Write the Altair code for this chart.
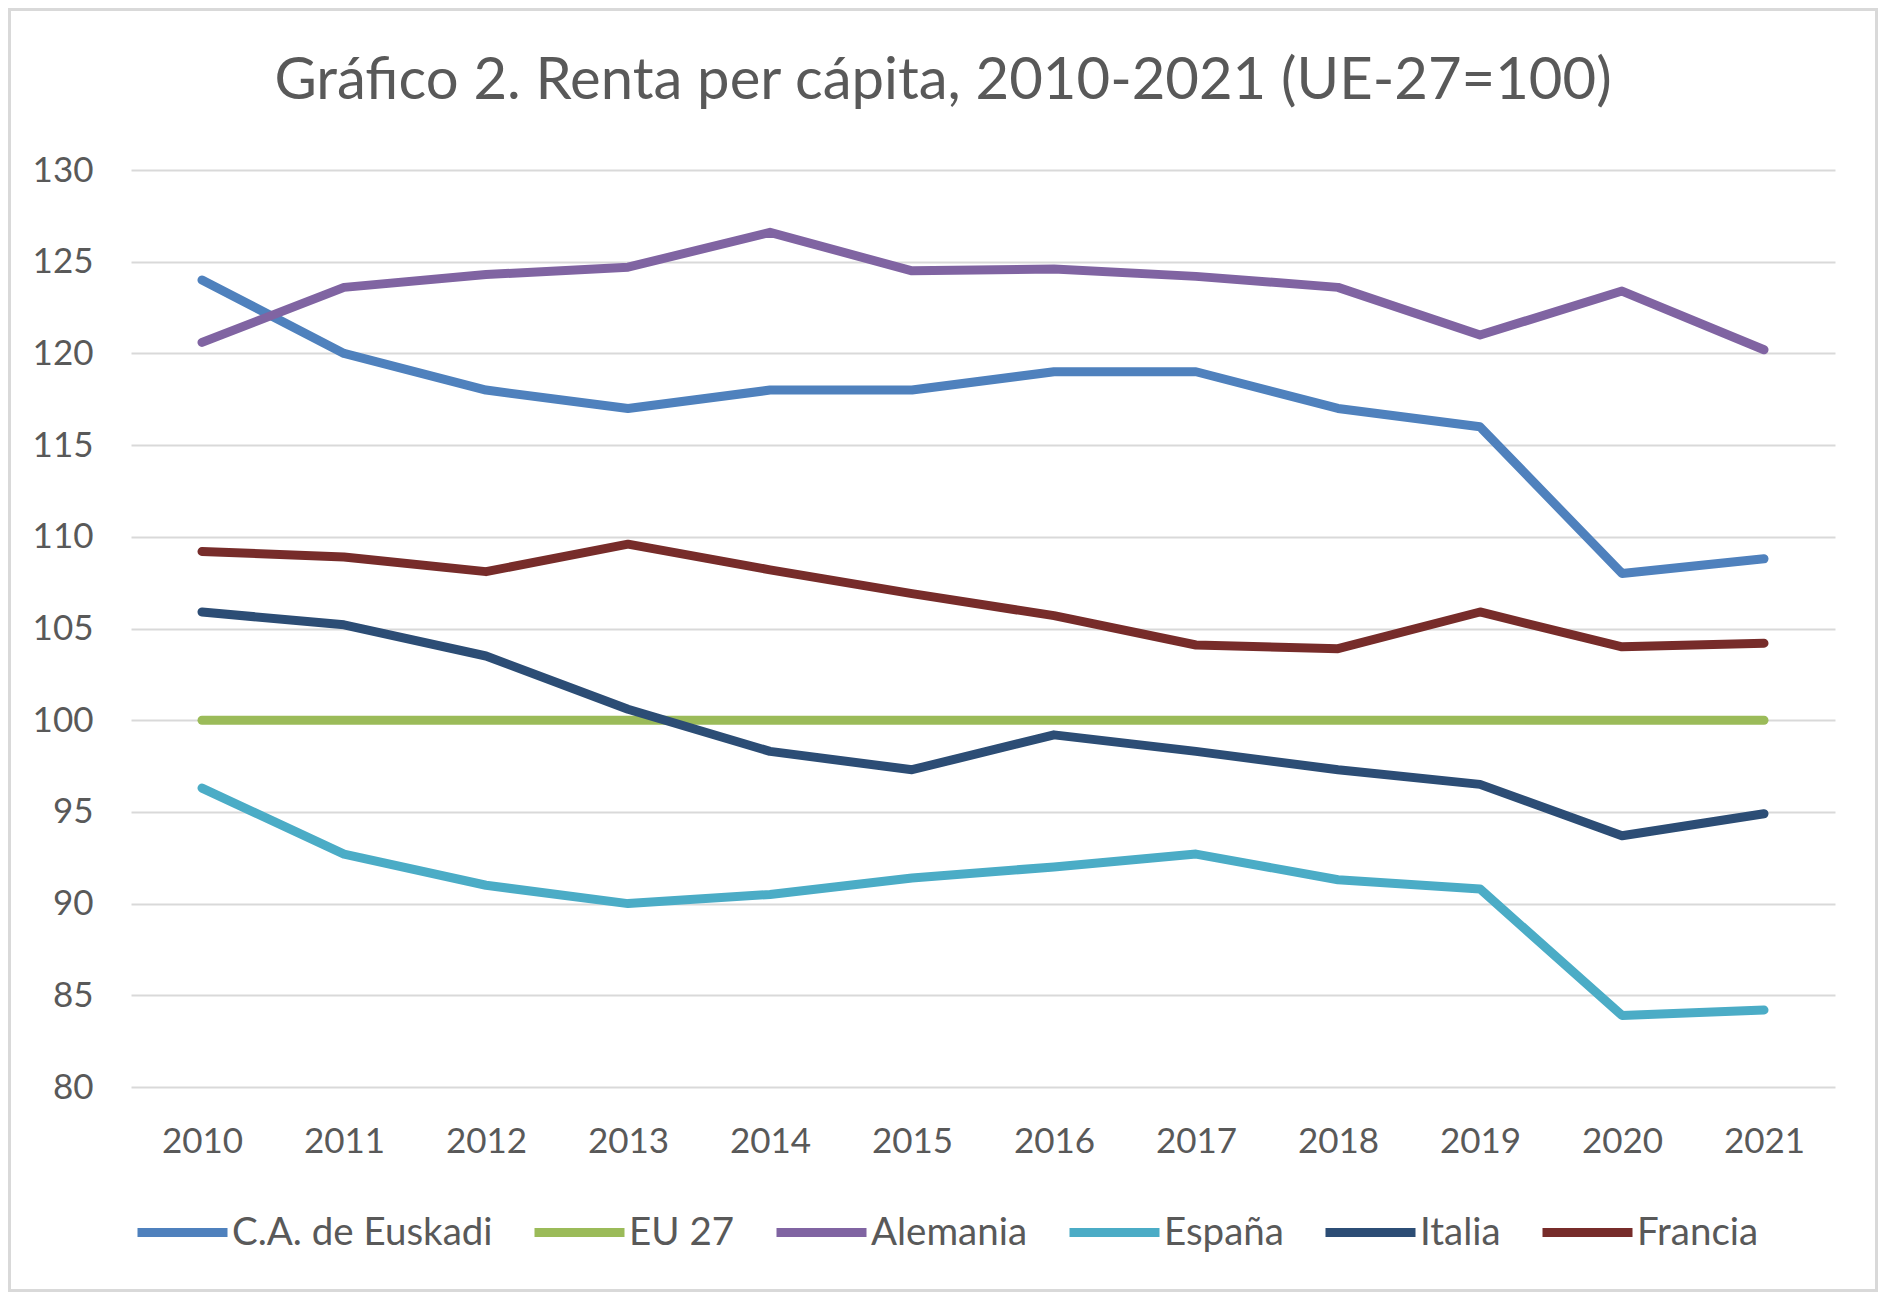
import altair as alt
import pandas as pd

years = ["2010", "2011", "2012", "2013", "2014", "2015", "2016", "2017", "2018", "2019", "2020", "2021"]
series_names = ["C.A. de Euskadi", "EU 27", "Alemania", "España", "Italia", "Francia"]
series_colors = ["#4F81BD", "#9BBB59", "#8064A2", "#4BACC6", "#2C4D75", "#772C2A"]

euskadi = [124.0, 120.0, 118.0, 117.0, 118.0, 118.0, 119.0, 119.0, 117.0, 116.0, 108.0, 108.8]
eu27 = [100, 100, 100, 100, 100, 100, 100, 100, 100, 100, 100, 100]
alemania = [120.6, 123.6, 124.3, 124.7, 126.6, 124.5, 124.6, 124.2, 123.6, 121.0, 123.4, 120.2]
espana = [96.3, 92.7, 91.0, 90.0, 90.5, 91.4, 92.0, 92.7, 91.3, 90.8, 83.9, 84.2]
italia = [105.9, 105.2, 103.5, 100.6, 98.3, 97.3, 99.2, 98.3, 97.3, 96.5, 93.7, 94.9]
francia = [109.2, 108.9, 108.1, 109.6, 108.2, 106.9, 105.7, 104.1, 103.9, 105.9, 104.0, 104.2]

y_ticks = [80, 85, 90, 95, 100, 105, 110, 115, 120, 125, 130]

values = [euskadi, eu27, alemania, espana, italia, francia]
rows = []
for order, (name, vals) in enumerate(zip(series_names, values)):
    for yr, v in zip(years, vals):
        rows.append({"Año": yr, "Serie": name, "Valor": v, "orden": order})
df = pd.DataFrame(rows)

FONT = "Lato"
GREY = "#595959"
W, H = 1704, 917
PAD = {"left": 123, "top": 162, "right": 43, "bottom": 205}

lines = alt.Chart(df).mark_line(strokeWidth=9, strokeCap="round", strokeJoin="round").encode(
    x=alt.X("Año:O", sort=years, title=None,
            axis=alt.Axis(labelAngle=0, labelPadding=37, domain=False, ticks=False,
                          labelFontSize=35, labelColor=GREY, labelFont=FONT)),
    y=alt.Y("Valor:Q", title=None,
            scale=alt.Scale(domain=[80, 130], nice=False, zero=False),
            axis=alt.Axis(values=y_ticks, labelPadding=38, domain=False, ticks=False,
                          grid=True, gridColor="#D9D9D9", gridWidth=2,
                          labelFontSize=35, labelColor=GREY, labelFont=FONT)),
    color=alt.Color("Serie:N",
                    scale=alt.Scale(domain=series_names, range=series_colors),
                    legend=alt.Legend(title=None, orient="none", direction="horizontal",
                                      legendX=2, legendY=1013, symbolType="stroke",
                                      symbolSize=8100, symbolStrokeWidth=9,
                                      labelOffset=0, columnPadding=23, padding=0,
                                      labelLimit=0,
                                      labelFontSize=38.5, labelColor=GREY, labelFont=FONT)),
    detail="Serie:N",
    order="orden:Q",
)

frame = alt.Chart(pd.DataFrame({"k": [0]})).mark_rect(
    fill="transparent", stroke="#D9D9D9", strokeWidth=3
).encode(
    x=alt.value(-PAD["left"] + 1.5), x2=alt.value(W + PAD["right"] - 1.5),
    y=alt.value(-PAD["top"] + 1.5), y2=alt.value(H + PAD["bottom"] - 1.5),
)

chart = alt.layer(lines, frame).properties(
    width=W, height=H,
    autosize=alt.AutoSizeParams(type="none"),
    padding=PAD,
    background="white",
    title=alt.Title("Gráfico 2. Renta per cápita, 2010-2021 (UE-27=100)",
                    font=FONT, fontSize=58, fontWeight="normal", color=GREY,
                    anchor="middle", frame="group", offset=0, dy=103, dx=-40),
).configure_view(stroke="transparent", strokeWidth=0)

chart.save("out.html", embed_options={"renderer": "svg", "actions": False})
